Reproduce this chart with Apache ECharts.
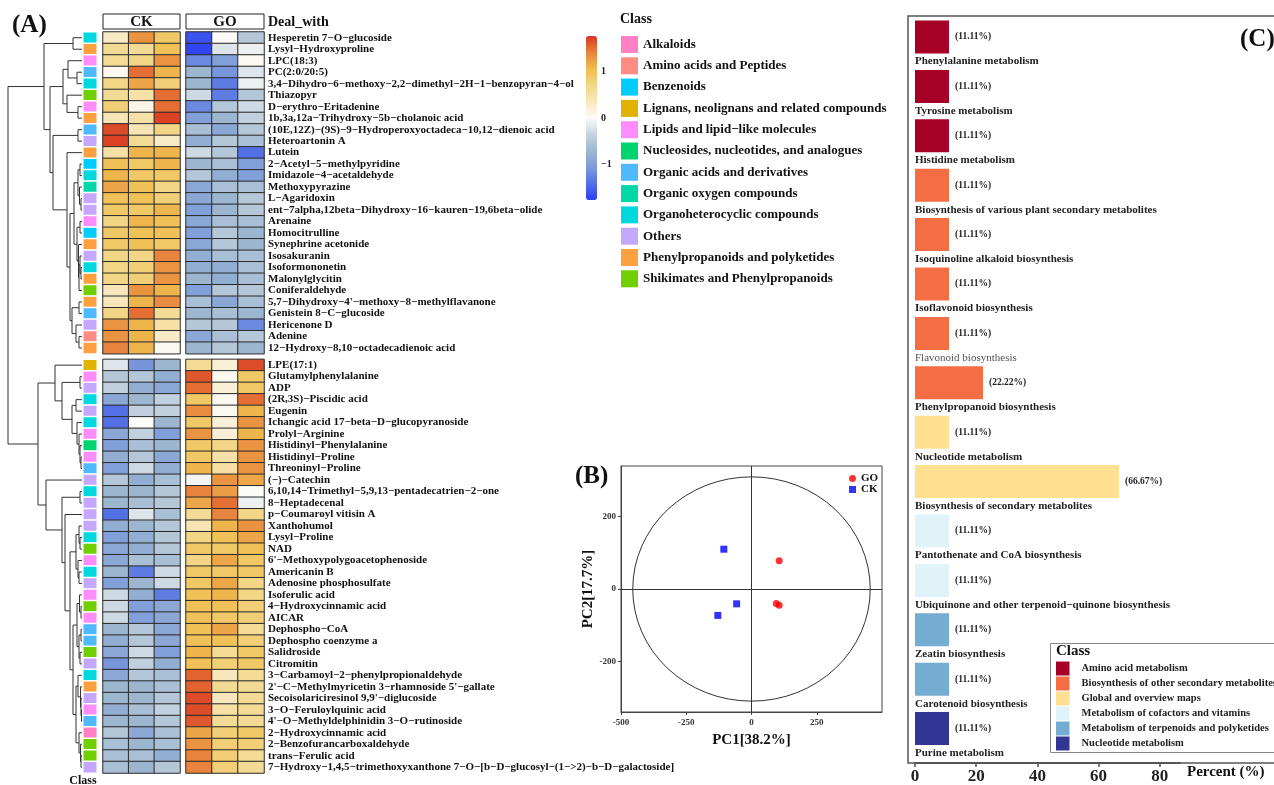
<!DOCTYPE html>
<html>
<head>
<meta charset="utf-8">
<title>Heatmap, PCA and KEGG classes</title>
<script src="https://cdn.jsdelivr.net/npm/echarts@6/dist/echarts.min.js"></script>
<style>
  html, body { margin: 0; padding: 0; background: #fff; }
  #main { width: 1274px; height: 785px; }
</style>
</head>
<body>
<div id="main"></div>
<script>
const SERIF = "'Liberation Serif', 'Times New Roman', serif";

// ---------- (A) heatmap ----------
const classNames = ['Alkaloids', 'Amino acids and Peptides', 'Benzenoids',
  'Lignans, neolignans and related compounds', 'Lipids and lipid\u2212like molecules',
  'Nucleosides, nucleotides, and analogues', 'Organic acids and derivatives',
  'Organic oxygen compounds', 'Organoheterocyclic compounds', 'Others',
  'Phenylpropanoids and polyketides', 'Shikimates and Phenylpropanoids'];
const classColors = ['#ff80c4', '#ff8c82', '#00ccff', '#e2b200', '#ff8cfa', '#00d46e',
  '#4fb9ff', '#00d8a8', '#00d8e0', '#c4a8ff', '#ffa040', '#6fcf00'];

const metabolites = [
  'Hesperetin 7−O−glucoside', 'Lysyl−Hydroxyproline', 'LPC(18:3)', 'PC(2:0/20:5)',
  '3,4−Dihydro−6−methoxy−2,2−dimethyl−2H−1−benzopyran−4−ol', 'Thiazopyr', 'D−erythro−Eritadenine',
  '1b,3a,12a−Trihydroxy−5b−cholanoic acid', '(10E,12Z)−(9S)−9−Hydroperoxyoctadeca−10,12−dienoic acid',
  'Heteroartonin A', 'Lutein', '2−Acetyl−5−methylpyridine', 'Imidazole−4−acetaldehyde', 'Methoxypyrazine',
  'L−Agaridoxin', 'ent−7alpha,12beta−Dihydroxy−16−kauren−19,6beta−olide', 'Arenaine', 'Homocitrulline',
  'Synephrine acetonide', 'Isosakuranin', 'Isoformononetin', 'Malonylglycitin', 'Coniferaldehyde',
  "5,7−Dihydroxy−4'−methoxy−8−methylflavanone", 'Genistein 8−C−glucoside', 'Hericenone D', 'Adenine',
  '12−Hydroxy−8,10−octadecadienoic acid',
  'LPE(17:1)', 'Glutamylphenylalanine', 'ADP', '(2R,3S)−Piscidic acid', 'Eugenin',
  'Ichangic acid 17−beta−D−glucopyranoside', 'Prolyl−Arginine', 'Histidinyl−Phenylalanine',
  'Histidinyl−Proline', 'Threoninyl−Proline', '(−)−Catechin', '6,10,14−Trimethyl−5,9,13−pentadecatrien−2−one',
  '8−Heptadecenal', 'p−Coumaroyl vitisin A', 'Xanthohumol', 'Lysyl−Proline', 'NAD',
  "6'−Methoxypolygoacetophenoside", 'Americanin B', 'Adenosine phosphosulfate', 'Isoferulic acid',
  '4−Hydroxycinnamic acid', 'AICAR', 'Dephospho−CoA', 'Dephospho coenzyme a', 'Salidroside', 'Citromitin',
  '3−Carbamoyl−2−phenylpropionaldehyde', "2'−C−Methylmyricetin 3−rhamnoside 5'−gallate",
  "Secoisolariciresinol 9,9'−diglucoside", '3−O−Feruloylquinic acid', "4'−O−Methyldelphinidin 3−O−rutinoside",
  '2−Hydroxycinnamic acid', '2−Benzofurancarboxaldehyde', 'trans−Ferulic acid',
  '7−Hydroxy−1,4,5−trimethoxyxanthone 7−O−[b−D−glucosyl−(1−>2)−b−D−galactoside]'
];
const metaboliteClass = [
  8, 10, 4, 6, 8, 11, 4, 10, 6, 9, 10, 2, 8, 7, 9, 9, 4, 2, 10, 9, 8, 10, 11, 10, 6, 9, 1, 10,
  3, 4, 9, 8, 9, 8, 4, 5, 4, 6, 9, 8, 9, 9, 9, 8, 11, 4, 8, 9, 4, 11, 4, 6, 6, 11, 9, 8, 10, 9, 4, 6, 0, 11, 11, 9
];
const ckValues = [
  [0.3, 1.3, 0.9], [0.6, 0.6, 1.0], [0.6, 0.7, 1.3], [0.05, 1.5, 1.1], [0.7, 1.2, 0.8],
  [0.6, 0.5, 1.5], [0.8, 0.1, 1.5], [0.4, 0.5, 1.7], [1.65, 0.4, 0.7], [1.7, 0.6, 0.3],
  [0.5, 1.1, 1.1], [1.0, 0.9, 1.1], [1.1, 0.9, 0.9], [1.2, 1.0, 0.7], [1.0, 1.0, 0.8],
  [0.9, 0.9, 1.1], [0.7, 1.1, 1.0], [0.9, 1.0, 1.0], [0.9, 1.0, 0.9], [0.7, 0.7, 1.4],
  [0.7, 0.8, 1.3], [0.7, 0.8, 1.3], [0.35, 1.3, 1.1], [0.35, 1.1, 1.35], [0.7, 1.5, 0.6],
  [1.3, 1.1, 0.5], [1.3, 1.1, 0.3], [1.4, 1.1, 0.05],
  [-0.2, -1.1, -0.7], [-0.5, -0.5, -0.8], [-0.4, -0.8, -0.9], [-0.9, -0.7, -0.4], [-1.4, -0.4, -0.4],
  [-1.4, 0.0, -0.7], [-0.9, -0.4, -1.0], [-1.0, -0.6, -0.7], [-0.8, -0.5, -0.9], [-1.0, -0.3, -0.8],
  [-0.5, -0.8, -0.6], [-0.7, -0.7, -0.5], [-0.7, -0.6, -0.5], [-1.4, -0.2, -0.6], [-0.8, -0.7, -0.5],
  [-1.0, -0.8, -0.5], [-0.9, -0.8, -0.5], [-0.9, -0.6, -0.6], [-0.7, -1.3, -0.3], [-1.0, -0.7, -0.3],
  [-0.3, -0.8, -1.3], [-0.3, -1.0, -0.9], [-0.3, -1.0, -0.9], [-0.7, -0.5, -0.9], [-0.8, -0.5, -0.9],
  [-0.9, -0.3, -1.0], [-1.1, -0.4, -0.8], [-0.9, -0.5, -0.6], [-0.7, -0.7, -0.6], [-0.7, -0.7, -0.5],
  [-0.8, -0.6, -0.4], [-0.7, -0.7, -0.5], [-0.5, -0.9, -0.6], [-0.6, -0.7, -0.6], [-0.6, -0.6, -0.8],
  [-0.6, -0.7, -0.5]
];
const goValues = [
  [-1.6, 0.0, -0.5], [-1.7, -0.2, -0.1], [-1.2, -1.0, 0.05], [-0.7, -1.1, -0.2], [-0.7, -1.3, -0.1],
  [-0.3, -1.3, -0.5], [-1.2, -0.5, -0.3], [-1.0, -0.7, -0.4], [-0.6, -0.9, -0.5], [-0.8, -0.5, -0.6],
  [-0.3, -0.5, -1.4], [-0.7, -0.6, -1.0], [-0.5, -0.8, -1.0], [-0.9, -0.6, -0.6], [-0.9, -0.7, -0.5],
  [-1.0, -0.7, -0.5], [-0.9, -0.6, -0.6], [-1.0, -0.5, -0.7], [-0.9, -0.5, -0.7], [-0.8, -0.6, -0.6],
  [-0.8, -0.8, -0.6], [-0.7, -0.8, -0.6], [-1.0, -0.5, -0.5], [-0.6, -0.9, -0.6], [-0.7, -0.6, -0.7],
  [-0.5, -0.5, -1.2], [-0.9, -0.6, -0.5], [-0.7, -0.5, -0.7],
  [0.6, 0.2, 1.65], [1.6, 0.05, 0.9], [1.5, 0.2, 0.9], [0.9, 0.05, 1.5], [1.35, 0.05, 1.1],
  [0.9, 0.2, 1.3], [1.3, 0.2, 1.1], [0.9, 0.7, 1.3], [0.9, 0.5, 1.3], [1.1, 0.5, 1.3],
  [-0.05, 1.3, 1.2], [1.4, 1.25, 0.0], [1.2, 1.5, -0.1], [0.6, 1.4, 0.7], [0.4, 1.1, 1.3],
  [0.7, 1.0, 1.2], [0.9, 0.9, 1.0], [0.7, 1.2, 0.9], [0.9, 0.9, 0.9], [0.9, 1.2, 0.7],
  [1.0, 1.1, 0.7], [1.0, 1.0, 0.8], [1.0, 0.9, 0.8], [1.0, 1.2, 0.6], [1.0, 1.0, 0.8],
  [1.1, 0.6, 0.9], [1.0, 0.8, 0.9], [1.55, 0.35, 0.6], [1.55, 0.6, 0.6], [1.65, 0.35, 0.6],
  [1.65, 0.5, 0.6], [1.6, 0.6, 0.6], [1.2, 0.8, 0.9], [1.3, 0.8, 0.8], [1.4, 0.8, 0.6],
  [1.4, 0.8, 0.6]
];
const topCount = 28;
const sampleCols = ['1', '2', '3'];
const scaleTicks = [-1, 0, 1];

// row clustering: [height, left, right], leaves are row indices
const dendrogram = [74,
  [38, [9, 0, 1],
    [32, [19, [14, 2, [5, 3, 4]], [15, 5, [4, 6, 7]]],
      [29, [4, 8, 9],
        [15, 10,
          [12, [8, [4, [2, 11, 12], [2.5, 13, [1, 14, 15]]],
                   [5, [2, 16, 17], [3.5, 18, [3, [2, 19, [1, 20, 21]], 22]]]],
               [10, [3, 23, 24], [6, 25, [3, 26, 27]]]]]]]],
  [44, [27, 28, [20, [2, 29, 30], [10, [6, 31, 32], [5, 33, [3, 34, [2, 35, [1, 36, 37]]]]]]],
    [36, 38, [20, [2, 39, 40],
      [17, 41, [12, [6, [3, 42, [2, 43, 44]], [4, 45, [3, 46, 47]]],
                    [9, [5, [2.5, 48, [1, 49, 50]], [3, [1, 51, 52], [2, 53, 54]]],
                        [6, [4, 55, [1.5, 56, [1, 57, [0.5, 58, 59]]]], [3, 60, [1.5, 61, [1, 62, 63]]]]]]]]]]
];

// ---------- (B) PCA ----------
const pcaGO = [[106, 78], [95, -40], [106, -45]];
const pcaCK = [[-106, 110], [-57, -41], [-129, -73]];
const pcaEllipse = [0, 0, 455, 310];
const pcaXTicks = [-500, -250, 0, 250];
const pcaYTicks = [-200, 0, 200];

// ---------- (C) KEGG pathways ----------
const pathways = ['Phenylalanine metabolism', 'Tyrosine metabolism', 'Histidine metabolism',
  'Biosynthesis of various plant secondary metabolites', 'Isoquinoline alkaloid biosynthesis',
  'Isoflavonoid biosynthesis', 'Flavonoid biosynthesis', 'Phenylpropanoid biosynthesis',
  'Nucleotide metabolism', 'Biosynthesis of secondary metabolites', 'Pantothenate and CoA biosynthesis',
  'Ubiquinone and other terpenoid\u2212quinone biosynthesis', 'Zeatin biosynthesis',
  'Carotenoid biosynthesis', 'Purine metabolism'];
const pathwayPercent = [11.11, 11.11, 11.11, 11.11, 11.11, 11.11, 11.11, 22.22, 11.11, 66.67,
  11.11, 11.11, 11.11, 11.11, 11.11];
const pathwayClass = [0, 0, 0, 1, 1, 1, 1, 1, 2, 2, 3, 3, 4, 4, 5];
const keggClasses = ['Amino acid metabolism', 'Biosynthesis of other secondary metabolites',
  'Global and overview maps', 'Metabolism of cofactors and vitamins',
  'Metabolism of terpenoids and polyketides', 'Nucleotide metabolism'];
const keggColors = ['#a50026', '#f46d43', '#fee090', '#e0f3f8', '#74add1', '#313695'];

// ---------- build ----------
function rowPos(i) { return i + 0.5 + (i >= topCount ? 0.5 : 0); }
const dendroLines = [];
function walk(node) {
  if (!Array.isArray(node)) return { y: rowPos(node), h: 0 };
  const a = walk(node[1]), b = walk(node[2]);
  dendroLines.push({ coords: [[a.h, a.y], [node[0], a.y], [node[0], b.y], [b.h, b.y]] });
  return { y: (a.y + b.y) / 2, h: node[0] };
}
walk(dendrogram);

const bold = (size, color) => ({ fontFamily: SERIF, fontWeight: 'bold', fontSize: size, color: color || '#111' });

const blocks = [
  { start: 0, end: topCount, top: 32, height: 321.7 },
  { start: topCount, end: metabolites.length, top: 359.4, height: 413.6 }
];

const grid = [{ left: 8, top: 32, width: 74, height: 741 }];
const xAxis = [{ gridIndex: 0, type: 'value', min: 0, max: 74, inverse: true, show: false }];
const yAxis = [{ gridIndex: 0, type: 'value', min: 0, max: 64.5, inverse: true, show: false }];
const series = [{
  type: 'lines', coordinateSystem: 'cartesian2d', xAxisIndex: 0, yAxisIndex: 0,
  polyline: true, silent: true, data: dendroLines,
  lineStyle: { color: '#333', width: 1, opacity: 1 }
}];
const heatSeries = [], classSeries = [];

blocks.forEach(b => {
  const names = metabolites.slice(b.start, b.end);
  const cols = [
    { key: 'class', left: 83, width: 14 },
    { key: 'ck', left: 103, width: 77 },
    { key: 'go', left: 186, width: 78 }
  ];
  cols.forEach(c => {
    const gi = grid.length;
    grid.push({ left: c.left, top: b.top, width: c.width, height: b.height });
    xAxis.push({ gridIndex: gi, type: 'category', data: c.key === 'class' ? ['c'] : sampleCols, show: false });
    const ya = { gridIndex: gi, type: 'category', data: names, inverse: true, show: false };
    if (c.key === 'go') {
      Object.assign(ya, {
        show: true, position: 'right', axisLine: { show: false }, axisTick: { show: false },
        axisLabel: Object.assign({ interval: 0, margin: 4 }, bold(11, '#111'))
      });
    }
    yAxis.push(ya);
    const data = [];
    for (let i = b.start; i < b.end; i++) {
      if (c.key === 'class') data.push([0, i - b.start, metaboliteClass[i]]);
      else {
        const v = c.key === 'ck' ? ckValues[i] : goValues[i];
        v.forEach((val, j) => data.push([j, i - b.start, val]));
      }
    }
    if (c.key === 'class') classSeries.push(series.length); else heatSeries.push(series.length);
    series.push({
      type: 'heatmap', xAxisIndex: gi, yAxisIndex: gi, data: data, silent: true,
      itemStyle: c.key === 'class' ? { borderColor: '#fff', borderWidth: 1.5 } : { borderColor: '#2a2a2a', borderWidth: 1 },
      emphasis: { disabled: true }
    });
  });
});

// colour scale axis
grid.push({ left: 586, top: 36, width: 11, height: 164 });
xAxis.push({ gridIndex: 7, type: 'value', show: false });
yAxis.push({
  gridIndex: 7, type: 'value', min: -1.75, max: 1.75, position: 'right',
  axisLine: { show: false }, axisTick: { show: false }, splitLine: { show: false },
  axisLabel: Object.assign({ customValues: scaleTicks, margin: 4, formatter: v => String(v).replace('-', '\u2212') }, bold(10, '#222'))
});

// PCA
grid.push({ left: 621, top: 466, width: 261, height: 246, show: true, borderColor: '#444', borderWidth: 1 });
xAxis.push({
  gridIndex: 8, type: 'value', min: -500, max: 500,
  name: 'PC1[38.2%]', nameLocation: 'middle', nameGap: 21, nameTextStyle: bold(15, '#111'),
  axisLine: { show: true, onZero: false, lineStyle: { color: '#444' } },
  axisTick: { show: true, customValues: pcaXTicks, length: 3, lineStyle: { color: '#444' } },
  axisLabel: Object.assign({ customValues: pcaXTicks, margin: 6 }, bold(9, '#333')),
  splitLine: { show: false }
});
yAxis.push({
  gridIndex: 8, type: 'value', min: -340, max: 340,
  name: 'PC2[17.7%]', nameLocation: 'middle', nameGap: 20, nameTextStyle: bold(15, '#111'),
  axisLine: { show: true, onZero: false, lineStyle: { color: '#444' } },
  axisTick: { show: true, customValues: pcaYTicks, length: 3, lineStyle: { color: '#444' } },
  axisLabel: Object.assign({ customValues: pcaYTicks, margin: 5 }, bold(9, '#333')),
  splitLine: { show: false }
});
series.push({
  type: 'custom', xAxisIndex: 8, yAxisIndex: 8, silent: true, data: [pcaEllipse],
  encode: { x: 0, y: 1 },
  renderItem: function (params, api) {
    const c = api.coord([api.value(0), api.value(1)]);
    const s = api.size([api.value(2), api.value(3)]);
    return {
      type: 'path',
      shape: { pathData: 'M0 50A50 50 0 1 1 100 50A50 50 0 1 1 0 50Z', x: c[0] - s[0], y: c[1] - s[1], width: 2 * s[0], height: 2 * s[1], layout: 'cover' },
      style: { fill: 'none', stroke: '#333', lineWidth: 1 }
    };
  }
});
series.push({
  type: 'scatter', name: 'GO', xAxisIndex: 8, yAxisIndex: 8, data: pcaGO, symbol: 'circle', symbolSize: 7,
  itemStyle: { color: '#ff0000' },
  markLine: {
    silent: true, symbol: ['none', 'none'], label: { show: false },
    lineStyle: { color: '#333', type: 'solid', width: 1 },
    data: [{ xAxis: 0 }, { yAxis: 0 }]
  }
});
series.push({
  type: 'scatter', name: 'CK', xAxisIndex: 8, yAxisIndex: 8, data: pcaCK, symbol: 'rect', symbolSize: 7,
  itemStyle: { color: '#0000ff' }
});

// KEGG bars
const catLabel = { align: 'left', verticalAlign: 'top', padding: [19, 0, 0, 0] };
grid.push({ left: 915, top: 12.3, width: 265, height: 741 });
xAxis.push({
  gridIndex: 9, type: 'value', min: 0, max: 86.6, interval: 20, offset: 9.7,
  name: 'Percent (%)', nameLocation: 'end', nameGap: 7,
  nameTextStyle: Object.assign({ align: 'left', verticalAlign: 'top', padding: [2, 0, 0, 0] }, bold(15, '#111')),
  axisLine: { show: true, lineStyle: { color: '#555', width: 2 } },
  axisTick: { show: true, length: 4, lineStyle: { color: '#555', width: 1.5 } },
  axisLabel: Object.assign({ margin: 5, showMaxLabel: false }, bold(17, '#222')),
  splitLine: { show: false }
});
yAxis.push({
  gridIndex: 9, type: 'category', inverse: true,
  data: pathways.map((p, i) => i === 6
    ? { value: p, textStyle: Object.assign({}, catLabel, { fontFamily: SERIF, fontSize: 11, color: '#555', fontWeight: 'normal' }) }
    : p),
  axisLine: { show: false }, axisTick: { show: false },
  axisLabel: Object.assign({ inside: true, interval: 0, margin: 0 }, catLabel, bold(11, '#222'))
});
keggClasses.forEach((cls, k) => {
  series.push({
    type: 'bar', name: cls, xAxisIndex: 9, yAxisIndex: 9, barWidth: 33, barGap: '-100%',
    itemStyle: { color: keggColors[k] },
    label: Object.assign({
      show: true, position: 'right', distance: 6,
      formatter: p => typeof p.value === 'number' ? '(' + p.value.toFixed(2) + '%)' : ''
    }, bold(9.5, '#222')),
    data: pathwayPercent.map((v, i) => pathwayClass[i] === k ? v : '-')
  });
});

const chart = echarts.init(document.getElementById('main'));
chart.setOption({
  animation: false,
  backgroundColor: '#fff',
  textStyle: { fontFamily: SERIF },
  grid: grid,
  xAxis: xAxis,
  yAxis: yAxis,
  visualMap: [{
    type: 'continuous', seriesIndex: heatSeries, dimension: 2, min: -1.75, max: 1.75,
    calculable: false, left: 586, top: 36, itemWidth: 11, itemHeight: 164, padding: 0,
    text: null, showLabel: false, hoverLink: false,
    inRange: { color: ['#2b3df2', '#5370e6', '#7d9bd9', '#9cb6d0', '#c6d4e0', '#fbfbf7', '#f8e7bd', '#f3d685', '#efbd4f', '#e8843d', '#d9361f'] }
  }, {
    type: 'piecewise', seriesIndex: classSeries, dimension: 2, left: 621, top: 36, padding: 0,
    itemWidth: 17, itemHeight: 17, itemGap: 4.3, itemSymbol: 'rect', textGap: 5,
    selectedMode: false, hoverLink: false, inverse: true,
    textStyle: bold(13, '#111'),
    pieces: classNames.map((n, k) => ({ value: k, label: n, color: classColors[k] }))
  }],
  legend: [{
    data: keggClasses, orient: 'vertical', left: 1056, top: 661.5, padding: 0,
    itemWidth: 13.5, itemHeight: 14, itemGap: 1, icon: 'rect', selectedMode: false,
    textStyle: Object.assign({ padding: [0, 0, 0, 7] }, bold(10.5, '#222'))
  }, {
    data: [{ name: 'GO', icon: 'circle' }, { name: 'CK', icon: 'rect' }],
    orient: 'vertical', left: 849, top: 473, padding: 0, itemWidth: 7, itemHeight: 7, itemGap: 0,
    selectedMode: false, textStyle: Object.assign({ lineHeight: 11 }, bold(11, '#111'))
  }],
  graphic: [
    { type: 'text', x: 12, y: 26, style: { text: '(A)', font: 'bold 25px ' + SERIF, fill: '#111', verticalAlign: 'middle' } },
    { type: 'text', x: 575, y: 477, style: { text: '(B)', font: 'bold 25px ' + SERIF, fill: '#111', verticalAlign: 'middle' } },
    { type: 'text', x: 1240, y: 40, style: { text: '(C)', font: 'bold 25px ' + SERIF, fill: '#111', verticalAlign: 'middle' } },
    { type: 'rect', shape: { x: 103, y: 14, width: 77, height: 15 }, style: { fill: 'none', stroke: '#222', lineWidth: 1 } },
    { type: 'rect', shape: { x: 186, y: 14, width: 78, height: 15 }, style: { fill: 'none', stroke: '#222', lineWidth: 1 } },
    { type: 'text', x: 141.5, y: 22, style: { text: 'CK', font: 'bold 15px ' + SERIF, fill: '#111', align: 'center', verticalAlign: 'middle' } },
    { type: 'text', x: 225, y: 22, style: { text: 'GO', font: 'bold 15px ' + SERIF, fill: '#111', align: 'center', verticalAlign: 'middle' } },
    { type: 'text', x: 268, y: 22, style: { text: 'Deal_with', font: 'bold 14px ' + SERIF, fill: '#111', verticalAlign: 'middle' } },
    { type: 'text', x: 620, y: 19, style: { text: 'Class', font: 'bold 14px ' + SERIF, fill: '#111', verticalAlign: 'middle' } },
    { type: 'text', x: 83, y: 781, style: { text: 'Class', font: 'bold 12px ' + SERIF, fill: '#111', align: 'center', verticalAlign: 'middle' } },
    { type: 'rect', shape: { x: 908, y: 16, width: 420, height: 747 }, style: { fill: 'none', stroke: '#555', lineWidth: 1.5 } },
    { type: 'rect', shape: { x: 1050.5, y: 643.5, width: 260, height: 109 }, style: { fill: '#fff', stroke: '#888', lineWidth: 1 }, z: 0 },
    { type: 'text', x: 1056, y: 651, style: { text: 'Class', font: 'bold 15px ' + SERIF, fill: '#111', verticalAlign: 'middle' } }
  ],
  series: series
});
</script>
</body>
</html>
